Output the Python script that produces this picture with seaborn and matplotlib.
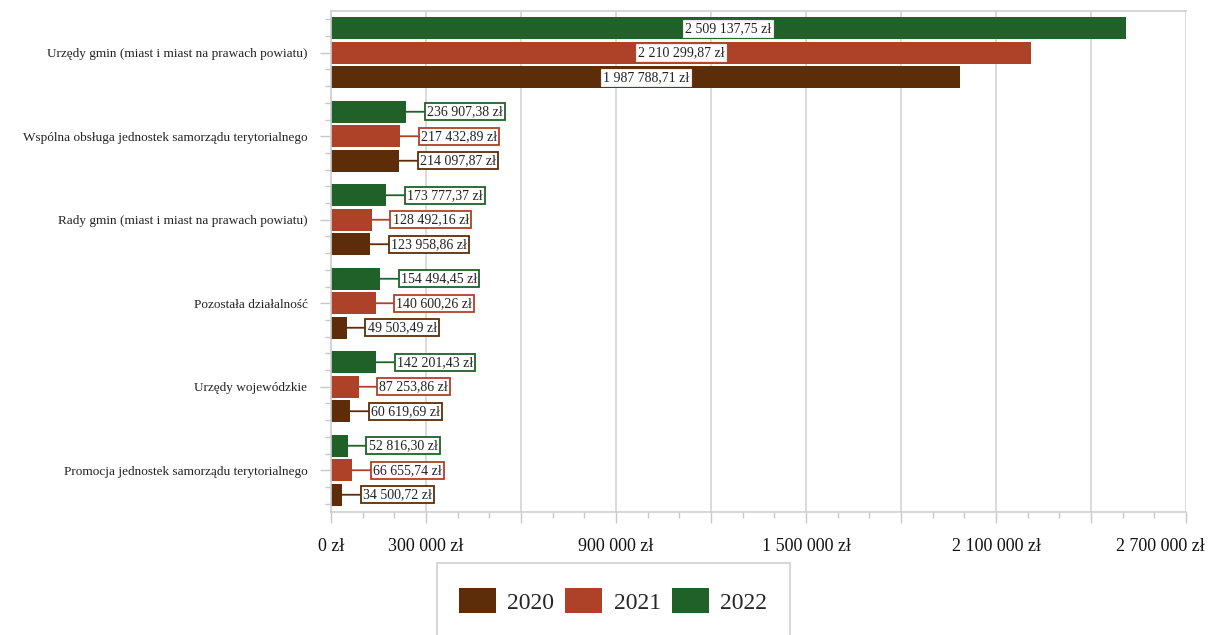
import numpy as np
import pandas as pd
import matplotlib
matplotlib.use("Agg")
import matplotlib.pyplot as plt
from matplotlib.patches import Patch, Rectangle
from matplotlib.ticker import FixedLocator
from matplotlib.transforms import ScaledTranslation
import seaborn as sns

# --- data -------------------------------------------------------------------
categories = [
    "Urzędy gmin (miast i miast na prawach powiatu)",
    "Wspólna obsługa jednostek samorządu terytorialnego",
    "Rady gmin (miast i miast na prawach powiatu)",
    "Pozostała działalność",
    "Urzędy wojewódzkie",
    "Promocja jednostek samorządu terytorialnego",
]
years = ["2020", "2021", "2022"]
values_2020 = [1987788.71, 214097.87, 123958.86, 49503.49, 60619.69, 34500.72]
values_2021 = [2210299.87, 217432.89, 128492.16, 140600.26, 87253.86, 66655.74]
values_2022 = [2509137.75, 236907.38, 173777.37, 154494.45, 142201.43, 52816.30]

x_tick_values = [0, 300000, 600000, 900000, 1200000, 1500000,
                 1800000, 2100000, 2400000, 2700000]
x_tick_labels = ["0 zł", "300 000 zł", "", "900 000 zł", "",
                 "1 500 000 zł", "", "2 100 000 zł", "", "2 700 000 zł"]

colors = {"2020": "#5C2D08", "2021": "#AD4229", "2022": "#1F6128"}

# --- long-form table --------------------------------------------------------
series = {"2020": values_2020, "2021": values_2021, "2022": values_2022}
df = pd.DataFrame(
    [(c, y, v) for y in years for c, v in zip(categories, series[y])],
    columns=["kategoria", "rok", "kwota"],
)


def pln(v):
    whole, frac = f"{v:,.2f}".split(".")
    return whole.replace(",", " ") + "," + frac + " zł"


sns.set_theme(style="white")
plt.rcParams["font.family"] = ["Liberation Serif", "DejaVu Serif"]

fig = plt.figure(figsize=(12.1, 6.35), dpi=100)
ax = fig.add_axes([331 / 1210, 1 - 512 / 635, (1186 - 331) / 1210, (512 - 11) / 635])

hue_order = ["2022", "2021", "2020"]
sns.barplot(
    data=df, y="kategoria", x="kwota", hue="rok", hue_order=hue_order,
    order=categories, palette=colors, saturation=1, orient="h",
    width=0.88, gap=0.1, linewidth=0, legend=False, ax=ax,
)

# value labels: inside the bar for very long bars, boxed with leader otherwise
label_size = 10
for year, container in zip(hue_order, ax.containers):
    col = colors[year]
    for bar, val in zip(container.patches, series[year]):
        yc = bar.get_y() + bar.get_height() / 2
        w = bar.get_width()
        if val > 1_000_000:
            ax.text(w / 2, yc, pln(val), ha="center", va="center",
                    fontsize=label_size, color="#222222",
                    bbox=dict(boxstyle="square,pad=0.15", fc="white",
                              ec="#e8e8e8", lw=0.8))
        else:
            ax.annotate(
                pln(val), xy=(w, yc), xytext=(15, 0), textcoords="offset points",
                ha="left", va="center", fontsize=label_size, color="#222222",
                bbox=dict(boxstyle="square,pad=0.15", fc="white", ec=col, lw=1.3),
                arrowprops=dict(arrowstyle="-", color=col, lw=1.3,
                                shrinkA=0, shrinkB=0),
            )

# axes styling
ax.set_xlim(0, 2700000)
ax.set_ylim(5.5, -0.5)
ax.set_xlabel("")
ax.set_ylabel("")
ax.xaxis.set_major_locator(FixedLocator(x_tick_values))
ax.set_xticklabels(x_tick_labels, fontsize=13, color="#111111")
ax.xaxis.set_minor_locator(FixedLocator(np.arange(0, 2700001, 100000)))
ax.yaxis.set_minor_locator(FixedLocator(
    [p for p in np.arange(-0.4, 5.45, 0.2) if abs(p - round(p)) > 1e-6]))
ax.tick_params(axis="y", labelsize=9.5, labelcolor="#222222")
ax.grid(axis="x", which="major", color="#d4d4d4", lw=1.2)
ax.set_axisbelow(True)
ax.tick_params(axis="both", which="major", length=8, width=1, color="#c8c8c8",
               direction="out", bottom=True, left=True)
ax.tick_params(axis="x", which="major", pad=11)
ax.tick_params(axis="y", which="major", pad=9)
ax.tick_params(axis="both", which="minor", length=4, width=1, color="#c8c8c8",
               direction="out", bottom=True, left=True)
for side in ["left", "bottom", "top"]:
    ax.spines[side].set_color("#cfcfcf")
    ax.spines[side].set_linewidth(1.2)
ax.spines["right"].set_visible(False)

# keep the last tick label inside the canvas
last = ax.get_xticklabels()[-1]
last.set_transform(last.get_transform()
                   + ScaledTranslation(-26 / 100, 0, fig.dpi_scale_trans))

# legend
fig.patches.append(Rectangle((437 / 1210, -0.05), (790 - 437) / 1210,
                             0.05 + 1 - 563 / 635, transform=fig.transFigure,
                             fc="white", ec="#d0d0d0", lw=1.2))
handles = [Patch(facecolor=colors[y], edgecolor="none") for y in years]
fig.legend(handles, years, ncol=3, loc="center",
           bbox_to_anchor=(613 / 1210, 1 - 601 / 635), frameon=False,
           fontsize=17, handlelength=1.57, handleheight=1.27,
           handletextpad=0.47, columnspacing=0.47)

fig.savefig("out.png", dpi=100)
